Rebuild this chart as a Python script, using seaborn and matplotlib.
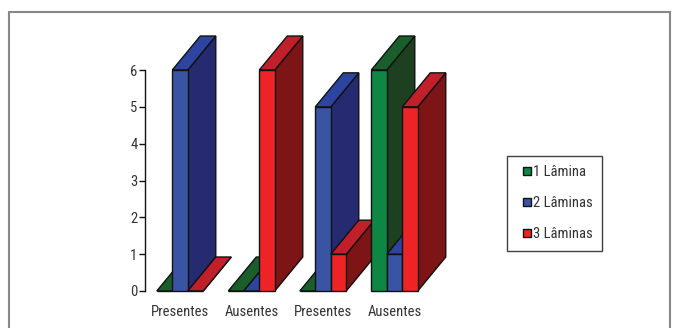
import matplotlib
matplotlib.use("Agg")
import matplotlib.pyplot as plt
from matplotlib import font_manager as fm
from matplotlib.patches import Polygon, Rectangle
from matplotlib.lines import Line2D
import seaborn as sns
import pandas as pd

# ---- data ----
categories = ["Presentes", "Ausentes", "Presentes", "Ausentes"]
series = ["1 Lâmina", "2 Lâminas", "3 Lâminas"]
vals_1_lamina = [0, 0, 0, 6]
vals_2_laminas = [6, 0, 5, 1]
vals_3_laminas = [0, 6, 1, 5]
y_ticks = [0, 1, 2, 3, 4, 5, 6]

front_cols = ["#0E8744", "#3A54A4", "#EE2326"]
side_cols = ["#1C4020", "#262A70", "#7D1416"]
top_cols = ["#1A5E2C", "#2D45A0", "#C1202A"]
text_col = "#333333"

rows = []
for s, vals in zip(series, [vals_1_lamina, vals_2_laminas, vals_3_laminas]):
    for gi, v in enumerate(vals):
        rows.append({"grupo": gi, "serie": s, "valor": v})
df = pd.DataFrame(rows)

sns.set_style("white")
available = {f.name for f in fm.fontManager.ttflist}
fam = [f for f in ["Roboto Condensed", "Archivo Narrow", "PT Sans Narrow",
                   "Liberation Sans Narrow", "Liberation Sans"] if f in available]
plt.rcParams["font.family"] = fam + ["DejaVu Sans"]

W, H = 676, 328
fig = plt.figure(figsize=(W / 100, H / 100), dpi=100)
ax_left, ax_bottom = 145, 291
xlim = (-0.49, 3.6)
ylim = (0, 7.1)
px_x = 71.5
px_y = 36.83
ax = fig.add_axes([ax_left / W, (H - ax_bottom) / H,
                   (xlim[1] - xlim[0]) * px_x / W, (ylim[1] - ylim[0]) * px_y / H])

sns.barplot(data=df, x="grupo", y="valor", hue="serie", hue_order=series,
            palette=front_cols, width=0.65, legend=False, ax=ax,
            edgecolor="#111111", linewidth=1.0, saturation=1)

dx = 28 / px_x
dy = 34 / px_y

bars = list(ax.patches)
n_g = len(categories)
order = []
for gi in range(n_g):
    for si in range(len(series)):
        order.append((si, gi, bars[si * n_g + gi]))

for p in bars:
    p.set_visible(False)

z = 3
for si, gi, p in order:
    x0 = p.get_x()
    w = p.get_width()
    h = p.get_height()
    x1 = x0 + w
    side = Polygon([(x1, 0), (x1 + dx, dy), (x1 + dx, h + dy), (x1, h)], closed=True,
                   facecolor=side_cols[si], edgecolor="#111111", linewidth=1.0,
                   zorder=z, clip_on=False)
    top = Polygon([(x0, h), (x0 + dx, h + dy), (x1 + dx, h + dy), (x1, h)], closed=True,
                  facecolor=top_cols[si], edgecolor="#111111", linewidth=1.0,
                  zorder=z + 0.1, clip_on=False)
    ax.add_patch(side)
    ax.add_patch(top)
    if h > 0:
        front = Rectangle((x0, 0), w, h, facecolor=front_cols[si], edgecolor="#111111",
                          linewidth=1.0, zorder=z + 0.2, clip_on=False)
        ax.add_patch(front)
    else:
        ax.plot([x0, x1], [0, 0], color="#111111", lw=1.0, zorder=z + 0.2,
                clip_on=False, solid_capstyle="butt")
    z += 1

ax.set_xlim(*xlim)
ax.set_ylim(*ylim)
ax.set_xticks(range(n_g))
ax.set_xticklabels(categories, fontsize=10.5, color=text_col)
ax.set_yticks(y_ticks)
ax.set_yticklabels([str(t) for t in y_ticks], fontsize=10.5, color=text_col)
ax.tick_params(axis="x", length=0, pad=10)
ax.tick_params(axis="y", length=4, width=1, color="#111111", pad=1.5, left=True)
ax.set_xlabel("")
ax.set_ylabel("")
for sp in ["top", "right", "bottom"]:
    ax.spines[sp].set_visible(False)
ax.spines["left"].set_bounds(0, 6)
ax.spines["left"].set_color("#111111")
ax.spines["left"].set_linewidth(1.0)
ax.patch.set_alpha(0)

handles = [Line2D([], [], marker="s", linestyle="none", markersize=5.5,
                  markerfacecolor=c, markeredgecolor="#111111", markeredgewidth=1.0)
           for c in front_cols]
leg = fig.legend(handles, series, loc="upper left",
                 bbox_to_anchor=(507 / W, (H - 156) / H), frameon=True,
                 fontsize=10.5, handlelength=1.5, handletextpad=-0.4,
                 labelspacing=1.15, borderpad=0.65, borderaxespad=0,
                 fancybox=False)
leg.get_frame().set_edgecolor("#111111")
leg.get_frame().set_linewidth(1.0)
for t in leg.get_texts():
    t.set_color(text_col)

frame = Rectangle((9 / W, -0.05), (670 - 9) / W, (H - 12) / H + 0.05,
                  transform=fig.transFigure, fill=False, edgecolor="#888888",
                  linewidth=1.5, clip_on=False)
fig.patches.append(frame)

fig.savefig("out.png", dpi=100)
